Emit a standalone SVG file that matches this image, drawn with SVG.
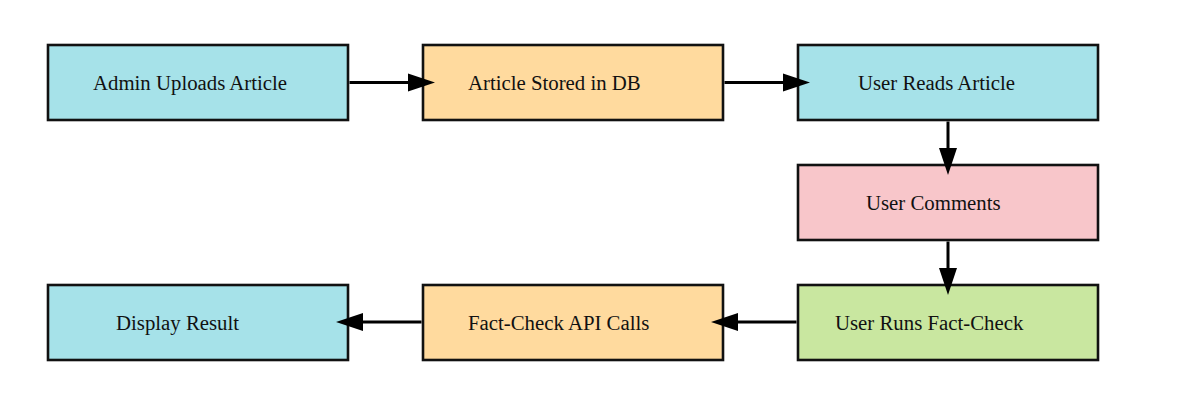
<svg xmlns="http://www.w3.org/2000/svg" width="1182" height="400" viewBox="0 0 1182 400">
<defs>
<style>
.box{stroke:#111;stroke-width:2.6}
.blue{fill:#a6e2e9}
.orange{fill:#ffda9e}
.pink{fill:#f8c6ca}
.green{fill:#c9e7a0}
.lbl{font-family:"Liberation Serif","Times New Roman",serif;font-size:20.8px;fill:#111}
.edge{stroke:#000;stroke-width:3;fill:none}
</style>
<marker id="ah" markerWidth="27" markerHeight="18" refX="27" refY="9" orient="auto" markerUnits="userSpaceOnUse">
<path d="M0,0 L27,9 L0,18 Z" fill="#000"/>
</marker>
</defs>
<rect width="1182" height="400" fill="#fff"/>
<g id="admin-uploads">
<rect class="box blue" x="48" y="45" width="300" height="75"/>
<text class="lbl" x="93" y="90">Admin Uploads Article</text>
</g>
<g id="article-stored">
<rect class="box orange" x="423" y="45" width="300" height="75"/>
<text class="lbl" x="468" y="90">Article Stored in DB</text>
</g>
<g id="user-reads">
<rect class="box blue" x="798" y="45" width="300" height="75"/>
<text class="lbl" x="858" y="90">User Reads Article</text>
</g>
<g id="user-comments">
<rect class="box pink" x="798" y="165" width="300" height="75"/>
<text class="lbl" x="866" y="210">User Comments</text>
</g>
<g id="user-runs">
<rect class="box green" x="798" y="285" width="300" height="75"/>
<text class="lbl" x="835" y="330">User Runs Fact-Check</text>
</g>
<g id="fact-check-api">
<rect class="box orange" x="423" y="285" width="300" height="75"/>
<text class="lbl" x="468" y="330">Fact-Check API Calls</text>
</g>
<g id="display-result">
<rect class="box blue" x="48" y="285" width="300" height="75"/>
<text class="lbl" x="116" y="330">Display Result</text>
</g>
<g id="connectors">
<path class="edge" d="M349.5,82.5 L411,82.5"/>
<path d="M408,73.5 L435,82.5 L408,91.5 Z" fill="#000"/>
<path class="edge" d="M724.5,82.5 L786,82.5"/>
<path d="M783,73.5 L810,82.5 L783,91.5 Z" fill="#000"/>
<path class="edge" d="M948,121.5 L948,152"/>
<path d="M939,148 L948,175 L957,148 Z" fill="#000"/>
<path class="edge" d="M948,241.5 L948,272"/>
<path d="M939,268 L948,295 L957,268 Z" fill="#000"/>
<path class="edge" d="M796.5,322 L736,322"/>
<path d="M738,313 L711,322 L738,331 Z" fill="#000"/>
<path class="edge" d="M421.5,322 L361,322"/>
<path d="M363,313 L336,322 L363,331 Z" fill="#000"/>
</g>
</svg>
